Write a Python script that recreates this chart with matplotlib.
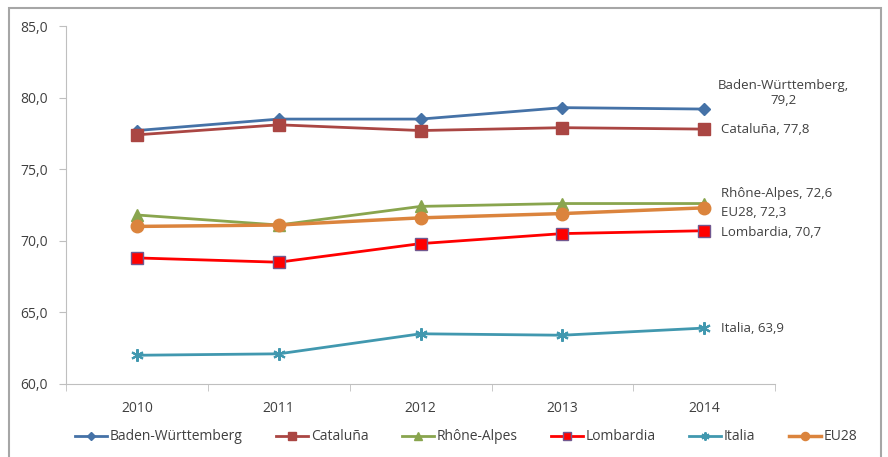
import matplotlib.pyplot as plt
from matplotlib.patches import Rectangle

years = ['2010', '2011', '2012', '2013', '2014']
baden = [77.7, 78.5, 78.5, 79.3, 79.2]
cataluna = [77.4, 78.1, 77.7, 77.9, 77.8]
rhone = [71.8, 71.1, 72.4, 72.6, 72.6]
lombardia = [68.8, 68.5, 69.8, 70.5, 70.7]
italia = [62.0, 62.1, 63.5, 63.4, 63.9]
eu28 = [71.0, 71.1, 71.6, 71.9, 72.3]

plt.rcParams['font.family'] = ['Open Sans', 'DejaVu Sans']
txt = '#404040'

fig = plt.figure(figsize=(8.88, 4.57), dpi=100)
ax = fig.add_axes([0.0743, 0.160, 0.7987, 0.783])
x = range(len(years))

ax.plot(x, baden, color='#4572A7', lw=2, marker='D', ms=6, label='Baden-Württemberg')
ax.plot(x, cataluna, color='#AA4643', lw=2, marker='s', ms=8, label='Cataluña')
ax.plot(x, rhone, color='#89A54E', lw=2, marker='^', ms=8, label='Rhône-Alpes')
ax.plot(x, eu28, color='#DB843D', lw=2.5, marker='o', ms=9, label='_eu')
ax.plot(x, lombardia, color='#FF0000', lw=2, marker='s', ms=8, mec='#71588F', mew=1, label='Lombardia')
ax.plot(x, italia, color='#4198AF', lw=2, marker=(6, 2, 0), ms=9, mew=1.5, label='Italia')
ax.plot([], [], color='#DB843D', lw=2.5, marker='o', ms=9, label='EU28')

fs = 9.5
ax.text(4.56, 79.35, 'Baden-Württemberg,\n79,2', ha='center', va='bottom', fontsize=fs, color=txt, linespacing=1.15)
ax.text(4.12, 77.8, 'Cataluña, 77,8', ha='left', va='center', fontsize=fs, color=txt)
ax.text(4.12, 73.3, 'Rhône-Alpes, 72,6', ha='left', va='center', fontsize=fs, color=txt)
ax.text(4.12, 72.0, 'EU28, 72,3', ha='left', va='center', fontsize=fs, color=txt)
ax.text(4.12, 70.6, 'Lombardia, 70,7', ha='left', va='center', fontsize=fs, color=txt)
ax.text(4.12, 63.9, 'Italia, 63,9', ha='left', va='center', fontsize=fs, color=txt)

ax.set_xlim(-0.5, 4.5)
ax.set_ylim(60, 85)
ax.set_yticks([60, 65, 70, 75, 80, 85])
ax.set_yticklabels(['60,0', '65,0', '70,0', '75,0', '80,0', '85,0'])
ax.set_xticks(list(x))
ax.set_xticklabels(years)
ax.set_xticks([i - 0.5 for i in range(6)], minor=True)
ax.tick_params(axis='x', which='major', length=0, pad=12, labelsize=10, labelcolor=txt)
ax.tick_params(axis='x', which='minor', length=5, color='#BFBFBF')
ax.tick_params(axis='y', length=5, color='#BFBFBF', labelsize=10, labelcolor=txt, pad=8)
for s in ['top', 'right']:
    ax.spines[s].set_visible(False)
for s in ['left', 'bottom']:
    ax.spines[s].set_color('#BFBFBF')

fig.legend(loc='lower center', bbox_to_anchor=(0.525, 0.0), ncol=6, frameon=False,
           fontsize=10, handlelength=2.3, columnspacing=2.4, handletextpad=0.2,
           markerscale=0.65, labelcolor=txt)

fig.patches.append(Rectangle((0.01, -0.02), 0.982, 1.002, transform=fig.transFigure,
                             fill=False, edgecolor='#A6A6A6', lw=1.5))

fig.savefig('out.png', dpi=100)
